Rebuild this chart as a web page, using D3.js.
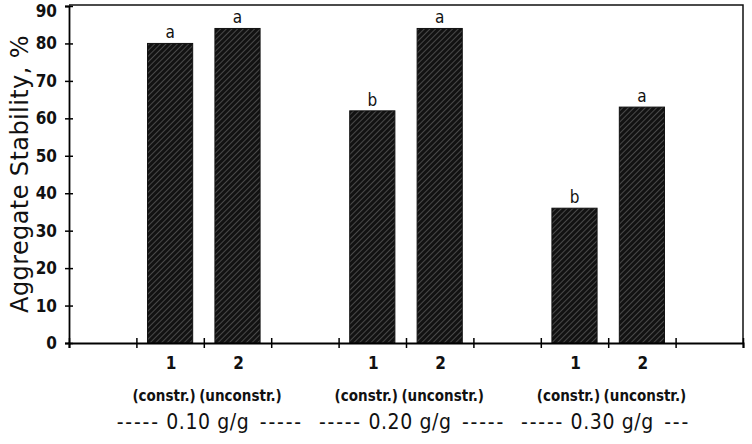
<!DOCTYPE html>
<html>
<head>
<meta charset="utf-8">
<script src="https://cdn.jsdelivr.net/npm/d3@7"></script>
<style>
  body { margin: 0; background: #fff; }
  svg text { fill: #111; }
  .cond { font-family: 'DejaVu Sans Condensed', 'DejaVu Sans'; font-stretch: condensed; }
</style>
</head>
<body>
<div id="wrapper"></div>
<script>
// data
const groups = ["0.10 g/g", "0.20 g/g", "0.30 g/g"];
const treatments = ["1", "2"];
const treatmentNames = ["(constr.)", "(unconstr.)"];
const stability = [80, 84, 62, 84, 36, 63];   // % , order: g1t1, g1t2, g2t1 ...
const letters = ["a", "a", "b", "a", "b", "a"];
const yTicks = [0, 10, 20, 30, 40, 50, 60, 70, 80, 90];

const chart = () => {
  const dims = { width: 752, height: 444, left: 69, right: 743, top: 6, bottom: 343 };

  const svg = d3.select("#wrapper").append("svg")
    .attr("width", dims.width)
    .attr("height", dims.height);

  // x is a plain 0..10 slot axis, 3 slots per group
  const xScale = d3.scaleLinear().domain([0, 10]).range([dims.left, dims.right]);
  const yScale = d3.scaleLinear().domain([0, 90]).range([dims.bottom, dims.top]);

  const bars = [];
  groups.forEach((g, i) => {
    treatments.forEach((t, j) => {
      const k = i * treatments.length + j;
      bars.push({ group: g, t: t, name: treatmentNames[j], value: stability[k], letter: letters[k], slot: i * 3 + j + 1.5 });
    });
  });

  // hatched fill
  const defs = svg.append("defs");
  const pat = defs.append("pattern")
    .attr("id", "hatch")
    .attr("patternUnits", "userSpaceOnUse")
    .attr("width", 4).attr("height", 4)
    .attr("patternTransform", "rotate(45)");
  pat.append("rect").attr("width", 4).attr("height", 4).attr("fill", "#121212");
  pat.append("line").attr("x1", 0).attr("y1", 0).attr("x2", 0).attr("y2", 4)
    .attr("stroke", "#9a9a9a").attr("stroke-width", 0.8);

  const barW = (xScale(1) - xScale(0)) * 0.67;

  svg.selectAll(".bar")
    .data(bars)
    .join("rect")
    .attr("class", "bar")
    .attr("x", d => xScale(d.slot) - barW / 2)
    .attr("y", d => yScale(d.value))
    .attr("width", barW)
    .attr("height", d => yScale(0) - yScale(d.value))
    .attr("fill", "url(#hatch)")
    .attr("stroke", "#111")
    .attr("stroke-width", 1);

  svg.selectAll(".letter")
    .data(bars)
    .join("text")
    .attr("class", "letter cond")
    .attr("x", d => xScale(d.slot))
    .attr("y", d => yScale(d.value) - 5)
    .attr("text-anchor", "middle")
    .style("font-size", "17px")
    .text(d => d.letter);

  // frame: top and right
  svg.append("path")
    .attr("d", `M${dims.left},${dims.top - 1}H${dims.right}V${dims.bottom}`)
    .attr("fill", "none").attr("stroke", "#111").attr("stroke-width", 1.5);

  // y axis
  const yAxis = d3.axisLeft(yScale).tickValues(yTicks).tickSize(4).tickPadding(8);
  const gy = svg.append("g").attr("transform", `translate(${dims.left},0)`).call(yAxis);
  gy.select(".domain").attr("stroke-width", 1.8);
  gy.selectAll(".tick line").attr("x2", 4).attr("x1", -4).attr("stroke-width", 1.5);
  gy.selectAll(".tick text")
    .attr("class", "cond")
    .style("font-weight", "bold")
    .style("font-size", "17px")
    .attr("fill", "#111");
  // top label sits just inside the picture
  gy.selectAll(".tick text").filter(d => d === 90).attr("dy", "0.62em");

  // x axis
  const xAxis = d3.axisBottom(xScale).tickValues(d3.range(0, 11)).tickSize(5).tickFormat("");
  const gx = svg.append("g").attr("transform", `translate(0,${dims.bottom})`).call(xAxis);
  gx.select(".domain").attr("stroke-width", 2);
  gx.selectAll(".tick line").attr("y1", -5).attr("y2", 5).attr("stroke-width", 1.5);

  // treatment numbers
  svg.selectAll(".tnum")
    .data(bars)
    .join("text")
    .attr("class", "tnum cond")
    .attr("x", d => xScale(d.slot) + 1)
    .attr("y", 369)
    .attr("text-anchor", "middle")
    .style("font-weight", "bold")
    .style("font-size", "17px")
    .text(d => d.t);

  svg.selectAll(".tname")
    .data(bars)
    .join("text")
    .attr("class", "tname cond")
    .attr("x", d => xScale(d.slot) + (d.t === "1" ? -6 : 3))
    .attr("y", 401)
    .attr("text-anchor", "middle")
    .style("font-size", "15px")
    .style("font-weight", "bold")
    .text(d => d.name);

  // group labels with dash runs
  const gl = svg.selectAll(".glab")
    .data(groups)
    .join("g")
    .attr("class", "glab cond")
    .attr("transform", (d, i) => `translate(${xScale(i * 3 + 2) + 4},429)`)
    .style("font-size", "21px");
  gl.append("text").attr("text-anchor", "middle").style("letter-spacing", "0.6px").text(d => d);
  gl.append("text").attr("x", -48).attr("text-anchor", "end")
    .style("letter-spacing", "1.8px").text("-----");
  gl.append("text").attr("x", 52).attr("text-anchor", "start")
    .style("letter-spacing", "1.8px")
    .text((d, i) => i === groups.length - 1 ? "---" : "-----");

  // y title
  svg.append("text")
    .attr("transform", "translate(28,174) rotate(-90)")
    .attr("text-anchor", "middle")
    .style("font-family", "'DejaVu Sans'")
    .style("font-size", "24px")
    .style("letter-spacing", "0.4px")
    .text("Aggregate Stability, %");
};

chart();
</script>
</body>
</html>
